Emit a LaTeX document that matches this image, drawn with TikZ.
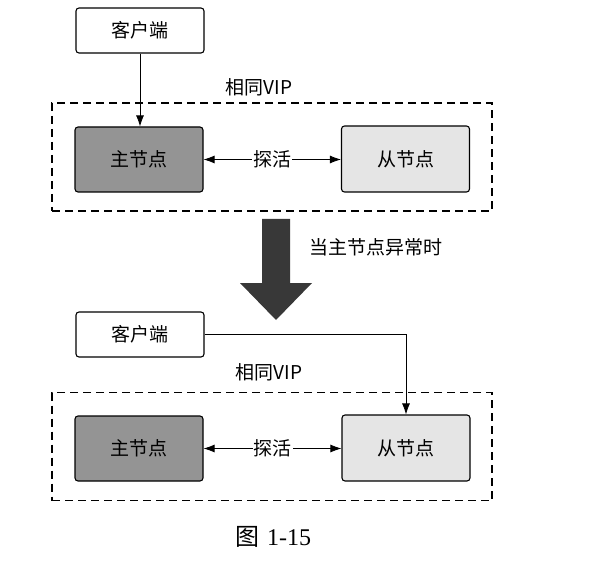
\documentclass[tikz,border=0pt]{standalone}
\usepackage{fontspec}
\newfontfamily\cjk{Noto Sans CJK SC}
\newfontfamily\capfont{Liberation Serif}
\usetikzlibrary{arrows.meta}
\tikzset{
  box/.style={draw, rounded corners=3pt, line width=1.1pt, minimum width=128pt, minimum height=45pt, inner sep=0pt, font=\cjk\fontsize{19}{22}\selectfont},
  master/.style={box, fill=black!42, minimum height=65pt},
  slave/.style={box, fill=black!10, minimum height=66pt},
  group/.style={draw, dash pattern=on 8pt off 5pt, line width=1.2pt, minimum width=440pt, minimum height=108pt, inner sep=0pt},
  lbl/.style={font=\cjk\fontsize{19}{22}\selectfont, inner sep=1pt},
  link/.style={line width=0.8pt, -{Latex[length=11pt,width=8pt]}},
  probe/.style={line width=0.8pt, {Latex[length=11pt,width=8pt]}-{Latex[length=11pt,width=8pt]}},
}

\begin{document}
\begin{tikzpicture}[x=1pt, y=-1pt]
			%%%%% START %%%%%
			\useasboundingbox (0, 0) rectangle (594, 561);
			
			% before
			\node[box] (client1) at (140, 30.5) {客户端};
			\node[lbl] (vip1) at (259, 87) {相同VIP};
			\node[group] (group1) at (272, 157) {};
			\node[master] (master1) at (139, 159.5) {主节点};
			\node[slave] (slave1) at (405.5, 159) {从节点};
			
			\draw[link] (client1.south) -- (client1.south |- master1.north);
			\draw[probe] (master1.east) -- node[lbl, fill=white] (probe1) {探活} (master1.east -| slave1.west);
			
			% failover
			\fill[black!78] (262, 219) -- (290, 219) -- (290, 283) -- (312, 283) -- (276, 320)
				-- (240, 283) -- (262, 283) -- cycle;
			\node[lbl] (event) at (376, 247) {当主节点异常时};
			
			% after
			\node[box] (client2) at (140, 334.5) {客户端};
			\node[lbl] (vip2) at (269, 372) {相同VIP};
			\node[group] (group2) at (272, 446.5) {};
			\node[master] (master2) at (139, 448.5) {主节点};
			\node[slave] (slave2) at (406, 448) {从节点};
			
			\draw[link] (client2.east) -| (slave2.north);
			\draw[probe] (master2.east) -- node[lbl, fill=white] (probe2) {探活} (master2.east -| slave2.west);
			
			\node[font=\fontsize{24}{28}\selectfont] (caption) at (273.5, 537) {{\cjk 图} \capfont 1-15};
			%%%%% END %%%%%
\end{tikzpicture}
\end{document}
